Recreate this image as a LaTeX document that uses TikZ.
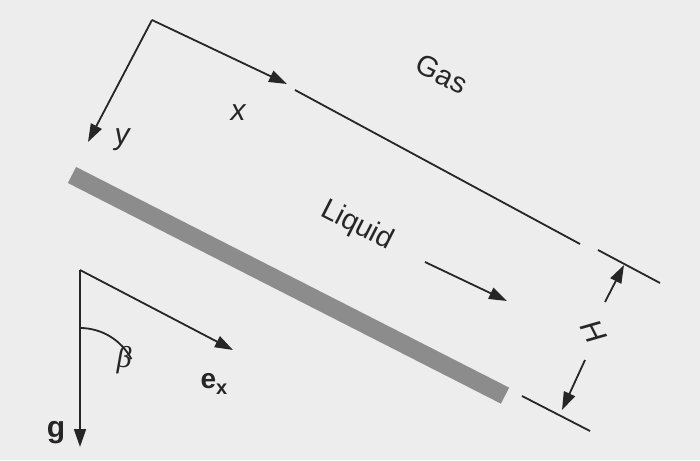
\documentclass[tikz,border=0pt]{standalone}
\usepackage{fontspec}
\setmainfont{Liberation Sans}
\newfontfamily\serifgr{Liberation Serif}
\usetikzlibrary{arrows.meta}
\begin{document}
\begin{tikzpicture}[x=1pt,y=-1pt,
  ln/.style={line width=1.8pt,black!85},
  arr/.style={ln,-{Triangle[length=18pt,width=12pt]}},
  lbl/.style={font=\fontsize{29}{31}\selectfont,text=black!85}]
\fill[black!7] (0,0) rectangle (700,460);
\useasboundingbox (0,0) rectangle (700,460);
% wall
\fill[black!45,rotate around={-27:(72,175)}] (72,166) rectangle (558,184);
% interface
\coordinate (s1) at (295,90); \coordinate (s2) at (580,244);
\draw[ln] (s1) -- (s2);
% axes
\coordinate (o) at (152,20); \coordinate (xa) at (287,84); \coordinate (ya) at (88,142);
\draw[arr] (o) -- (xa);
\draw[arr] (o) -- (ya);
\node[lbl,font=\fontsize{30}{32}\selectfont\itshape] (xl) at (238,113) {x};
\node[lbl,font=\fontsize{30}{32}\selectfont\itshape] (yl) at (122,140) {y};
\node[lbl,rotate=-27] (gas) at (442,74) {Gas};
\node[lbl,rotate=-27] (liq) at (357,226) {Liquid};
\coordinate (f1) at (425,262); \coordinate (f2) at (507,301);
\draw[arr] (f1) -- (f2);
% H dimension
\coordinate (t1) at (598,250); \coordinate (t2) at (660,283);
\coordinate (b1) at (522,396); \coordinate (b2) at (590,431);
\draw[ln] (t1) -- (t2);
\draw[ln] (b1) -- (b2);
\coordinate (h1) at (605,302); \coordinate (h2) at (624,265);
\coordinate (h3) at (585,360); \coordinate (h4) at (562,410);
\draw[arr] (h1) -- (h2);
\draw[arr] (h3) -- (h4);
\node[lbl,font=\fontsize{30}{32}\selectfont\itshape,rotate=-63] (H) at (594,331) {H};
% gravity
\coordinate (v) at (80,270); \coordinate (g) at (80,447); \coordinate (ex) at (233,350);
\draw[arr] (v) -- (g);
\draw[arr] (v) -- (ex);
\draw[ln] (80,328) arc[start angle=-90,end angle=-27.6,radius=58];
\node[lbl,font=\fontsize{30}{32}\selectfont\serifgr\itshape] (beta) at (124,360) {β};
\node[lbl,font=\fontsize{28}{30}\selectfont\bfseries] (exl) at (214,384) {e\raisebox{-6pt}{\fontsize{20}{22}\selectfont x}};
\node[lbl,font=\fontsize{30}{32}\selectfont\bfseries] (gl) at (56,433) {g};
\end{tikzpicture}
\end{document}
